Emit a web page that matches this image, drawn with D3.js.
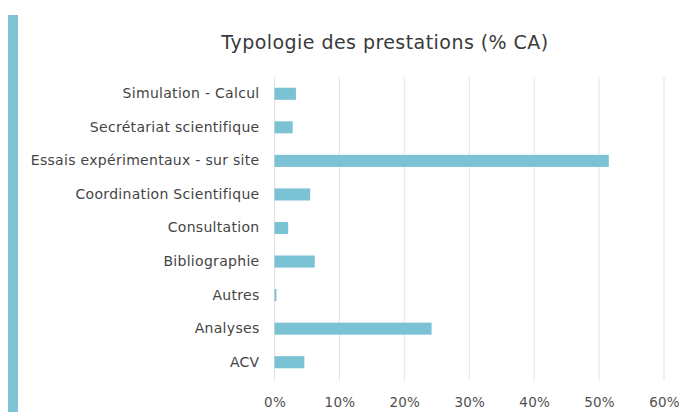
<!DOCTYPE html>
<html>
<head>
<meta charset="utf-8">
<script src="https://cdn.jsdelivr.net/npm/d3@7"></script>
<style>
  body { margin: 0; background: #fff; }
  svg { display: block; font-family: "DejaVu Sans", sans-serif; }
</style>
</head>
<body>
<svg id="chart" width="679" height="412"></svg>
<script>
// data
const categories = ['Simulation - Calcul', 'Secrétariat scientifique', 'Essais expérimentaux - sur site',
  'Coordination Scientifique', 'Consultation', 'Bibliographie', 'Autres', 'Analyses', 'ACV'];
const values = [3.3, 2.8, 51.5, 5.5, 2.1, 6.2, 0.3, 24.2, 4.6];
const ticks = [0, 10, 20, 30, 40, 50, 60];

const svg = d3.select('#chart');
const barColor = '#7cc2d5';

// accent strip on the left
svg.append('rect')
  .attr('x', 8).attr('y', 15)
  .attr('width', 10).attr('height', 397)
  .attr('fill', '#7ec4d6');

svg.append('text')
  .attr('x', 385).attr('y', 49)
  .attr('text-anchor', 'middle')
  .style('font-size', '19px')
  .style('letter-spacing', '0.45px')
  .style('fill', '#3a3a3a')
  .text('Typologie des prestations (% CA)');

const x = d3.scaleLinear().domain([0, 60]).range([274.5, 664]);
const y = d3.scaleBand().domain(categories).range([77, 379]).paddingInner(0.64).paddingOuter(0.32);

// gridlines
svg.append('g')
  .selectAll('line')
  .data(ticks)
  .enter()
  .append('line')
  .attr('x1', d => x(d)).attr('x2', d => x(d))
  .attr('y1', 77).attr('y2', 381)
  .attr('stroke', '#e3e3e3')
  .attr('stroke-width', 1);

// bars
svg.append('g')
  .selectAll('rect')
  .data(values)
  .enter()
  .append('rect')
  .attr('x', x(0))
  .attr('y', (d, i) => y(categories[i]))
  .attr('width', d => x(d) - x(0))
  .attr('height', y.bandwidth())
  .attr('fill', barColor);

// category labels
const yAxis = svg.append('g')
  .attr('transform', 'translate(' + (x(0) - 15) + ',0)')
  .call(d3.axisLeft(y).tickSize(0).tickPadding(0));
yAxis.select('.domain').remove();
yAxis.selectAll('text')
  .style('font-size', '14px')
  .style('letter-spacing', '0.3px')
  .style('fill', '#444')
  .style('font-family', '"DejaVu Sans", sans-serif');

// tick labels
const xAxis = svg.append('g')
  .attr('transform', 'translate(0,397)')
  .call(d3.axisBottom(x).tickValues(ticks).tickSize(0).tickPadding(0).tickFormat(d => d + '%'));
xAxis.select('.domain').remove();
xAxis.selectAll('text')
  .style('font-size', '13.5px')
  .style('letter-spacing', '0.2px')
  .style('fill', '#505050')
  .style('font-family', '"DejaVu Sans", sans-serif');
</script>
</body>
</html>
